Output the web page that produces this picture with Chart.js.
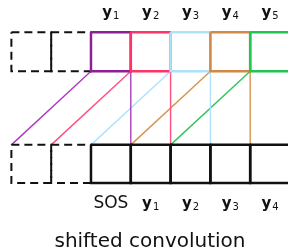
<!DOCTYPE html>
<html>
<head>
<meta charset="utf-8">
<script src="https://cdn.jsdelivr.net/npm/chart.js@4"></script>
<style>
  body { margin: 0; background: #fff; }
  #wrap { width: 288px; height: 252px; }
</style>
</head>
<body>
<div id="wrap"><canvas id="convChart" width="288" height="252"></canvas></div>
<script>
// cells are 1 unit wide; index 0 is the first real position
const padCells = [-2, -1];
const outputCells = [0, 1, 2, 3, 4];
const inputCells = [0, 1, 2, 3, 4];
const outputSubs = ['1', '2', '3', '4', '5'];
const inputLabels = [['SOS', ''], ['y', '1'], ['y', '2'], ['y', '3'], ['y', '4']];
const boxColors = ['#8e1f94', '#ff3366', '#aee2fb', '#d08a45', '#22c452'];
const lineColors = ['#aa3fbb', '#ff4f7d', '#b0e2fc', '#d4954f', '#33c45e'];
const kernelSize = 3;
const titleText = 'shifted convolution';

// vertical levels (same units as cells, axis reversed)
const topRow = [0.81, 1.79];
const bottomRow = [3.64, 4.6];

function rect(x, y0, y1) {
    return [
        { x: x, y: y0 }, { x: x + 1, y: y0 }, { x: x + 1, y: y1 },
        { x: x, y: y1 }, { x: x, y: y0 }
    ];
}

const datasets = [];

function addPath(points, color, width, dash, order) {
    datasets.push({
        data: points,
        showLine: true,
        borderColor: color,
        borderWidth: width,
        borderDash: dash || [],
        borderJoinStyle: 'miter',
        pointRadius: 0,
        fill: false,
        order: order
    });
}

// receptive field lines
outputCells.forEach(function(i, k) {
    addPath([{ x: i, y: topRow[1] }, { x: i - (kernelSize - 1), y: bottomRow[0] }], lineColors[k], 1.4, null, 5);
    addPath([{ x: i + 1, y: topRow[1] }, { x: i + 1, y: bottomRow[0] }], lineColors[k], 1.4, null, 5);
});

// padding boxes
padCells.forEach(function(i) {
    addPath(rect(i, topRow[0], topRow[1]), '#111', 2, [8, 5], 3);
    addPath(rect(i, bottomRow[0], bottomRow[1]), '#111', 2, [8, 5], 3);
});

// input boxes
inputCells.forEach(function(i) {
    addPath(rect(i, bottomRow[0], bottomRow[1]), '#111', 2.5, null, 2);
});

// output boxes
outputCells.forEach(function(i, k) {
    addPath(rect(i, topRow[0], topRow[1]), boxColors[k], 2.5, null, 1 - k * 0.1);
});

const labelPlugin = {
    id: 'labels',
    afterDatasetsDraw: function(chart) {
        const ctx = chart.ctx;
        const xs = chart.scales.x;
        const ys = chart.scales.y;
        ctx.save();
        ctx.fillStyle = '#111';
        ctx.textBaseline = 'alphabetic';

        function drawSub(base, sub, cx, baseline) {
            ctx.font = 'bold 15px "DejaVu Sans"';
            const w1 = ctx.measureText(base).width;
            ctx.font = '10px "DejaVu Sans"';
            const w2 = ctx.measureText(sub).width + 1;
            const x = cx - (w1 + w2) / 2;
            ctx.textAlign = 'left';
            ctx.font = 'bold 15px "DejaVu Sans"';
            ctx.fillText(base, x, baseline);
            ctx.font = '10px "DejaVu Sans"';
            ctx.fillText(sub, x + w1 + 1, baseline + 2);
        }

        outputCells.forEach(function(i, k) {
            drawSub('y', outputSubs[k], xs.getPixelForValue(i + 0.5), ys.getPixelForValue(0.43));
        });
        inputCells.forEach(function(i, k) {
            const lab = inputLabels[k];
            const base = ys.getPixelForValue(5.23);
            if (lab[1]) {
                drawSub(lab[0], lab[1], xs.getPixelForValue(i + 0.5), base);
            } else {
                ctx.font = '17px "DejaVu Sans"';
                ctx.textAlign = 'center';
                ctx.fillText(lab[0], xs.getPixelForValue(i + 0.5), base);
            }
        });

        ctx.font = '20px "DejaVu Sans"';
        ctx.textAlign = 'center';
        ctx.fillText(titleText, 150, ys.getPixelForValue(6.2));
        ctx.restore();
    }
};

const ctx = document.getElementById('convChart').getContext('2d');
new Chart(ctx, {
    type: 'scatter',
    data: { datasets: datasets },
    options: {
        responsive: false,
        animation: false,
        layout: { padding: 0 },
        plugins: { legend: { display: false }, tooltip: { enabled: false } },
        scales: {
            x: { type: 'linear', min: -2.286, max: 4.95, display: false },
            y: { type: 'linear', min: 0, max: 6.332, reverse: true, display: false }
        }
    },
    plugins: [labelPlugin]
});
</script>
</body>
</html>
